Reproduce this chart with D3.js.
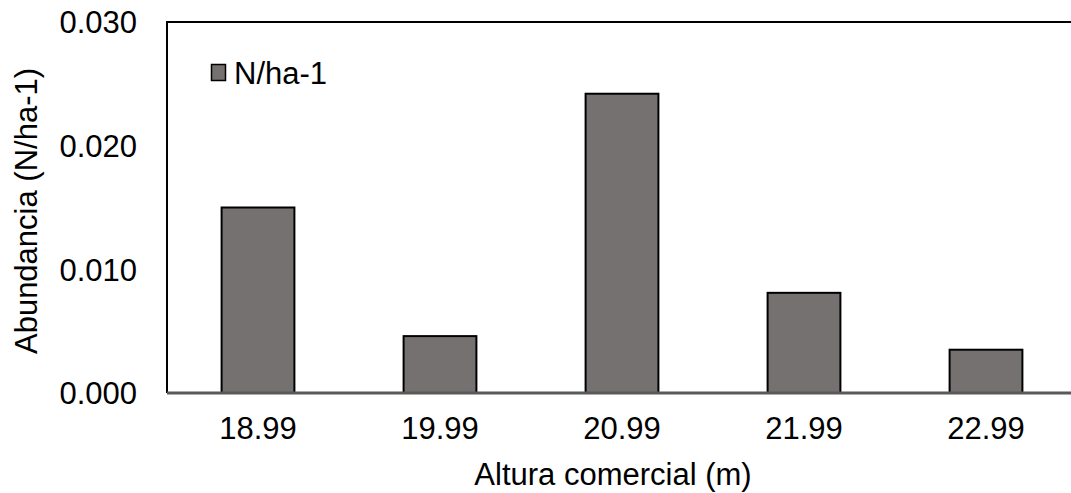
<!DOCTYPE html>
<html><head><meta charset="utf-8">
<script src="https://cdn.jsdelivr.net/npm/d3@7"></script>
<style>body{margin:0;background:#fff}svg{display:block}text{font-family:"Liberation Sans",Arial,sans-serif;fill:#000}</style>
</head><body><svg id="c" width="1071" height="493"></svg>
<script>
const categories = ["18.99","19.99","20.99","21.99","22.99"];
const values = [0.0150, 0.0046, 0.0242, 0.0081, 0.0035];
const yTicks = [0, 0.010, 0.020, 0.030];
const seriesName = "N/ha-1";

const FS = 31;
const svg = d3.select("#c");
const L = 167, R = 1077, T = 22, B = 393;
const x = d3.scaleBand().domain(categories).range([L, R]).paddingInner(0.6).paddingOuter(0.3);
const y = d3.scaleLinear().domain([0, 0.03]).range([B, T]);

svg.append("path").attr("d", `M${L},${B} V${T} H${R}`).attr("fill","none").attr("stroke","#000").attr("stroke-width",2);

svg.selectAll("rect.bar").data(values).join("rect").attr("class","bar")
  .attr("x",(d,i)=>x(categories[i])).attr("width",x.bandwidth())
  .attr("y",d=>y(d)).attr("height",d=>B-y(d))
  .attr("fill","#767171").attr("stroke","#000").attr("stroke-width",2);

svg.append("line").attr("x1",L).attr("x2",1071).attr("y1",B).attr("y2",B).attr("stroke","#595959").attr("stroke-width",3);

const yAxis = d3.axisLeft(y).tickValues(yTicks).tickFormat(d3.format(".3f")).tickSize(0).tickPadding(30);
const gy = svg.append("g").attr("transform",`translate(${L},0)`).call(yAxis);
gy.select(".domain").remove();
gy.attr("font-size",FS).attr("font-family",null);
gy.selectAll("text").attr("dy","0.35em");

const xAxis = d3.axisBottom(x).tickSize(0).tickPadding(24);
const gx = svg.append("g").attr("transform",`translate(0,${B})`).call(xAxis);
gx.select(".domain").remove();
gx.attr("font-size",FS).attr("font-family",null);

svg.append("text").attr("x",613).attr("y",485).attr("text-anchor","middle").attr("font-size",FS).text("Altura comercial (m)");
svg.append("text").attr("transform","translate(37,211) rotate(-90)").attr("text-anchor","middle").attr("font-size",FS).text("Abundancia (N/ha-1)");

svg.append("rect").attr("x",211.5).attr("y",64.5).attr("width",14).attr("height",16).attr("fill","#767171").attr("stroke","#000").attr("stroke-width",1.5);
svg.append("text").attr("x",234).attr("y",84).attr("font-size",FS).text(seriesName);
</script></body></html>
